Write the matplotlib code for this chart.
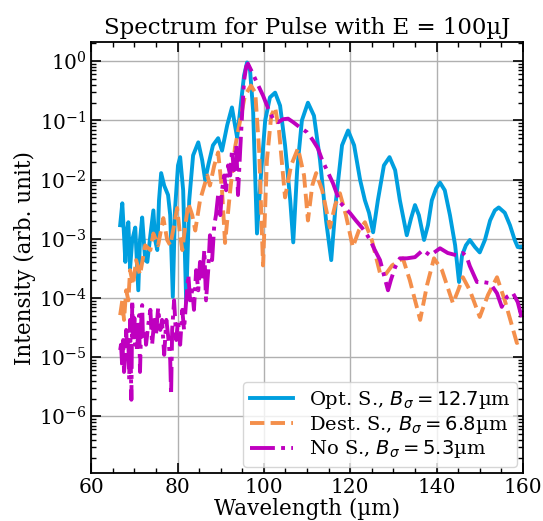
import numpy as np
import matplotlib.pyplot as plt
from matplotlib.ticker import MultipleLocator, LogLocator, NullFormatter

plt.rcParams['font.family'] = 'DejaVu Serif'
plt.rcParams['mathtext.fontset'] = 'dejavusans'

# Opt. S. (wavelength in um, log10 intensity)
wl_opt = [66.7, 67.2, 67.6, 67.9, 68.3, 68.6, 69.0, 69.5, 70.2, 70.9, 71.3, 71.8, 72.5, 73.0,
          73.7, 74.4, 74.8, 75.3, 75.7, 76.2, 76.9, 77.8, 78.3, 78.9, 79.4, 80.1, 80.6, 81.3,
          82.0, 82.7, 83.6, 84.8, 85.7, 86.4, 87.1, 88.2, 89.4, 90.3, 91.5, 92.6, 93.3, 93.8,
          94.5, 95.4, 96.1, 96.8, 97.5, 98.4, 99.4, 100.3, 101.4, 102.6, 103.75, 104.9, 106.1,
          106.8, 107.7, 108.8, 110.2, 111.6, 113.0, 114.4, 115.6, 116.7, 118.1, 119.5, 120.9,
          122.3, 123.4, 124.35, 125.3, 126.4, 127.8, 129.1, 130.4, 131.5, 133.1, 134.1, 135.0,
          135.9, 137.1, 138.0, 138.9, 139.9, 140.8, 141.9, 143.1, 144.3, 145.2, 145.9, 146.8,
          147.7, 148.9, 150.0, 151.2, 152.4, 153.5, 154.4, 155.8, 157.0, 158.1, 158.8, 160.0]
lg_opt = [-2.77, -2.40, -2.94, -3.39, -2.86, -2.72, -3.50, -3.02, -2.81, -3.87, -3.02, -2.64,
          -3.36, -3.39, -2.94, -2.52, -3.02, -3.19, -2.35, -1.89, -2.10, -2.26, -2.60, -3.98,
          -2.52, -1.76, -1.62, -2.18, -4.07, -2.35, -1.59, -1.37, -1.67, -2.01, -1.76, -1.42,
          -1.30, -1.51, -1.08, -0.78, -1.08, -1.29, -0.83, -0.24, -0.02, -0.16, -0.83, -2.91,
          -1.84, -1.00, -0.61, -0.53, -0.75, -1.42, -2.35, -3.06, -1.84, -1.00, -0.70, -0.92,
          -1.67, -2.69, -3.36, -2.35, -1.42, -1.17, -1.42, -2.01, -2.35, -2.56, -2.89, -2.35,
          -1.76, -1.62, -1.84, -2.35, -2.94, -2.65, -2.43, -2.60, -3.02, -2.77, -2.35, -2.15,
          -2.05, -2.18, -2.60, -3.11, -3.73, -3.28, -3.11, -3.02, -3.14, -3.23, -3.02, -2.69,
          -2.52, -2.47, -2.56, -2.77, -3.02, -3.14, -3.13]

# Dest. S.
wl_dest = [66.7, 67.2, 67.6, 68.1, 68.6, 69.0, 69.7, 70.4, 71.3, 72.5, 73.7, 74.4, 75.5, 76.7,
           77.6, 78.3, 79.2, 79.9, 80.6, 81.1, 81.8, 82.5, 83.4, 84.1, 85.2, 86.2, 86.9, 87.5,
           88.5, 89.4, 90.3, 91.0, 92.2, 93.3, 94.5, 95.6, 97.0, 98.0, 98.9, 99.8, 100.7, 101.7,
           102.6, 103.5, 104.9, 106.3, 107.9, 109.3, 110.2, 111.2, 112.1, 113.5, 115.3, 116.5,
           117.6, 119.0, 120.6, 122.0, 123.4, 125.0, 126.9, 128.1, 129.7, 132.2, 133.8, 136.2,
           137.8, 139.4, 141.25, 143.8, 145.0, 146.1, 147.7, 150.0, 151.9, 154.0, 155.8, 158.6,
           160.0]
lg_dest = [-4.29, -4.04, -4.37, -3.87, -4.04, -3.53, -3.78, -3.36, -3.61, -3.11, -3.19, -2.91,
           -3.11, -2.65, -3.02, -3.11, -2.77, -2.48, -2.94, -3.19, -2.77, -2.40, -2.60, -2.86,
           -2.35, -2.10, -1.93, -2.10, -1.76, -1.54, -2.18, -3.07, -2.18, -1.46, -1.00, -0.58,
           -0.41, -0.53, -1.51, -3.45, -1.67, -0.92, -0.78, -1.17, -2.30, -1.76, -1.47, -1.93,
           -2.69, -2.10, -1.89, -2.18, -2.81, -2.43, -2.23, -2.60, -3.14, -2.86, -2.72, -3.02,
           -3.58, -3.61, -3.45, -3.33, -3.70, -4.37, -3.78, -3.33, -3.53, -4.09, -3.87, -3.65,
           -3.87, -4.32, -3.95, -3.65, -4.04, -4.76, -4.71]

# No S.
wl_no = [66.7, 66.9, 67.2, 67.4, 67.6, 67.9, 68.1, 68.3, 68.6, 68.8, 69.0, 69.3, 69.5, 69.7,
         70.0, 70.2, 70.4, 70.6, 70.9, 71.1, 71.3, 71.6, 71.8, 72.0, 72.5, 72.7, 73.2, 73.7,
         74.1, 74.6, 75.0, 75.5, 76.0, 76.4, 76.9, 77.4, 77.8, 78.3, 78.5, 78.75, 79.2, 79.7,
         80.1, 80.6, 81.1, 81.5, 82.0, 82.5, 82.9, 83.4, 83.8, 84.3, 84.8, 85.2, 85.7, 86.2,
         86.6, 87.1, 87.5, 88.0, 88.5, 88.9, 89.4, 89.9, 90.3, 90.8, 91.25, 91.7, 92.2, 92.6,
         93.1, 93.6, 94.0, 94.5, 95.0, 95.4, 95.9, 96.3, 97.3, 98.7, 99.8, 101.0, 102.1, 103.3,
         104.4, 105.6, 106.8, 108.4, 110.0, 111.4, 112.5, 113.5, 114.6, 116.0, 117.6, 118.8,
         120.0, 121.3, 122.7, 123.7, 124.6, 125.7, 126.9, 127.8, 128.75, 129.4, 130.4, 131.5,
         133.1, 135.0, 136.85, 138.5, 140.8, 142.6, 144.7, 146.1, 147.0, 147.7, 149.35, 150.7,
         152.4, 154.0, 155.1, 156.3, 157.7, 158.8, 160.0]
lg_no = [-4.88, -4.79, -5.18, -4.71, -5.25, -4.96, -4.54, -4.88, -4.71, -5.38, -4.37, -5.72,
         -4.04, -4.71, -4.34, -4.79, -4.46, -4.91, -4.54, -4.29, -5.25, -4.37, -4.12, -4.71,
         -4.54, -4.79, -4.46, -4.20, -4.79, -4.37, -4.63, -4.17, -4.54, -4.37, -4.96, -4.37,
         -4.63, -5.05, -5.64, -4.54, -4.04, -4.71, -4.37, -4.79, -4.20, -4.54, -4.04, -3.61,
         -4.04, -3.87, -4.20, -3.53, -3.87, -3.39, -3.70, -3.19, -4.04, -3.53, -2.94, -3.36,
         -2.77, -2.60, -2.26, -2.60, -2.18, -1.93, -2.18, -1.76, -1.93, -1.51, -1.84, -1.42,
         -2.26, -1.51, -0.83, -0.33, -0.09, -0.04, -0.19, -0.41, -0.58, -0.80, -0.97, -1.03,
         -0.98, -0.97, -1.03, -1.12, -1.20, -1.34, -1.47, -1.67, -1.84, -2.06, -2.38, -2.48,
         -2.57, -2.69, -2.81, -2.91, -3.02, -3.19, -3.36, -3.61, -3.87, -3.70, -3.48, -3.33,
         -3.33, -3.31, -3.19, -3.28, -3.16, -3.24, -3.28, -3.24, -3.31, -3.46, -3.73, -3.73,
         -3.75, -3.92, -4.15, -3.98, -3.92, -4.07, -4.41]

fig = plt.figure(figsize=(5.43, 5.21), dpi=100)
ax = fig.add_axes([0.168, 0.092, 0.795, 0.827])

ax.plot(wl_opt, 10 ** np.array(lg_opt), color='#009fdf', lw=2.8, ls='-',
        label=r'Opt. S., $B_\sigma = 12.7$µm')
ax.plot(wl_dest, 10 ** np.array(lg_dest), color='#f48f4b', lw=2.8, ls='--',
        label=r'Dest. S., $B_\sigma = 6.8$µm')
ax.plot(wl_no, 10 ** np.array(lg_no), color='#bf00bf', lw=2.8, ls='-.',
        label=r'No S., $B_\sigma = 5.3$µm')

ax.set_yscale('log')
ax.set_xlim(60, 160)
ax.set_ylim(1.1e-7, 2.1)
ax.xaxis.set_major_locator(MultipleLocator(20))
ax.xaxis.set_minor_locator(MultipleLocator(5))
ax.yaxis.set_major_locator(LogLocator(base=10, numticks=20))
ax.yaxis.set_minor_locator(LogLocator(base=10, subs=np.arange(2, 10), numticks=20))
ax.yaxis.set_minor_formatter(NullFormatter())
ax.tick_params(which='both', direction='in', top=True, right=True, labelsize=14.5)
ax.tick_params(which='major', length=7, width=1.2)
ax.tick_params(which='minor', length=3.5, width=1)
for s in ax.spines.values():
    s.set_linewidth(1.3)
ax.grid(True, which='major', color='#b0b0b0', lw=1)

ax.set_xlabel('Wavelength (µm)', fontsize=15.5, labelpad=1)
ax.set_ylabel('Intensity (arb. unit)', fontsize=15.5, labelpad=2)
ax.set_title('Spectrum for Pulse with E = 100µJ', fontsize=16.5)
ax.legend(loc='lower right', fontsize=14, handlelength=2.2, borderaxespad=0.3,
          labelspacing=0.15, borderpad=0.35)

fig.savefig('out.png', dpi=100)
